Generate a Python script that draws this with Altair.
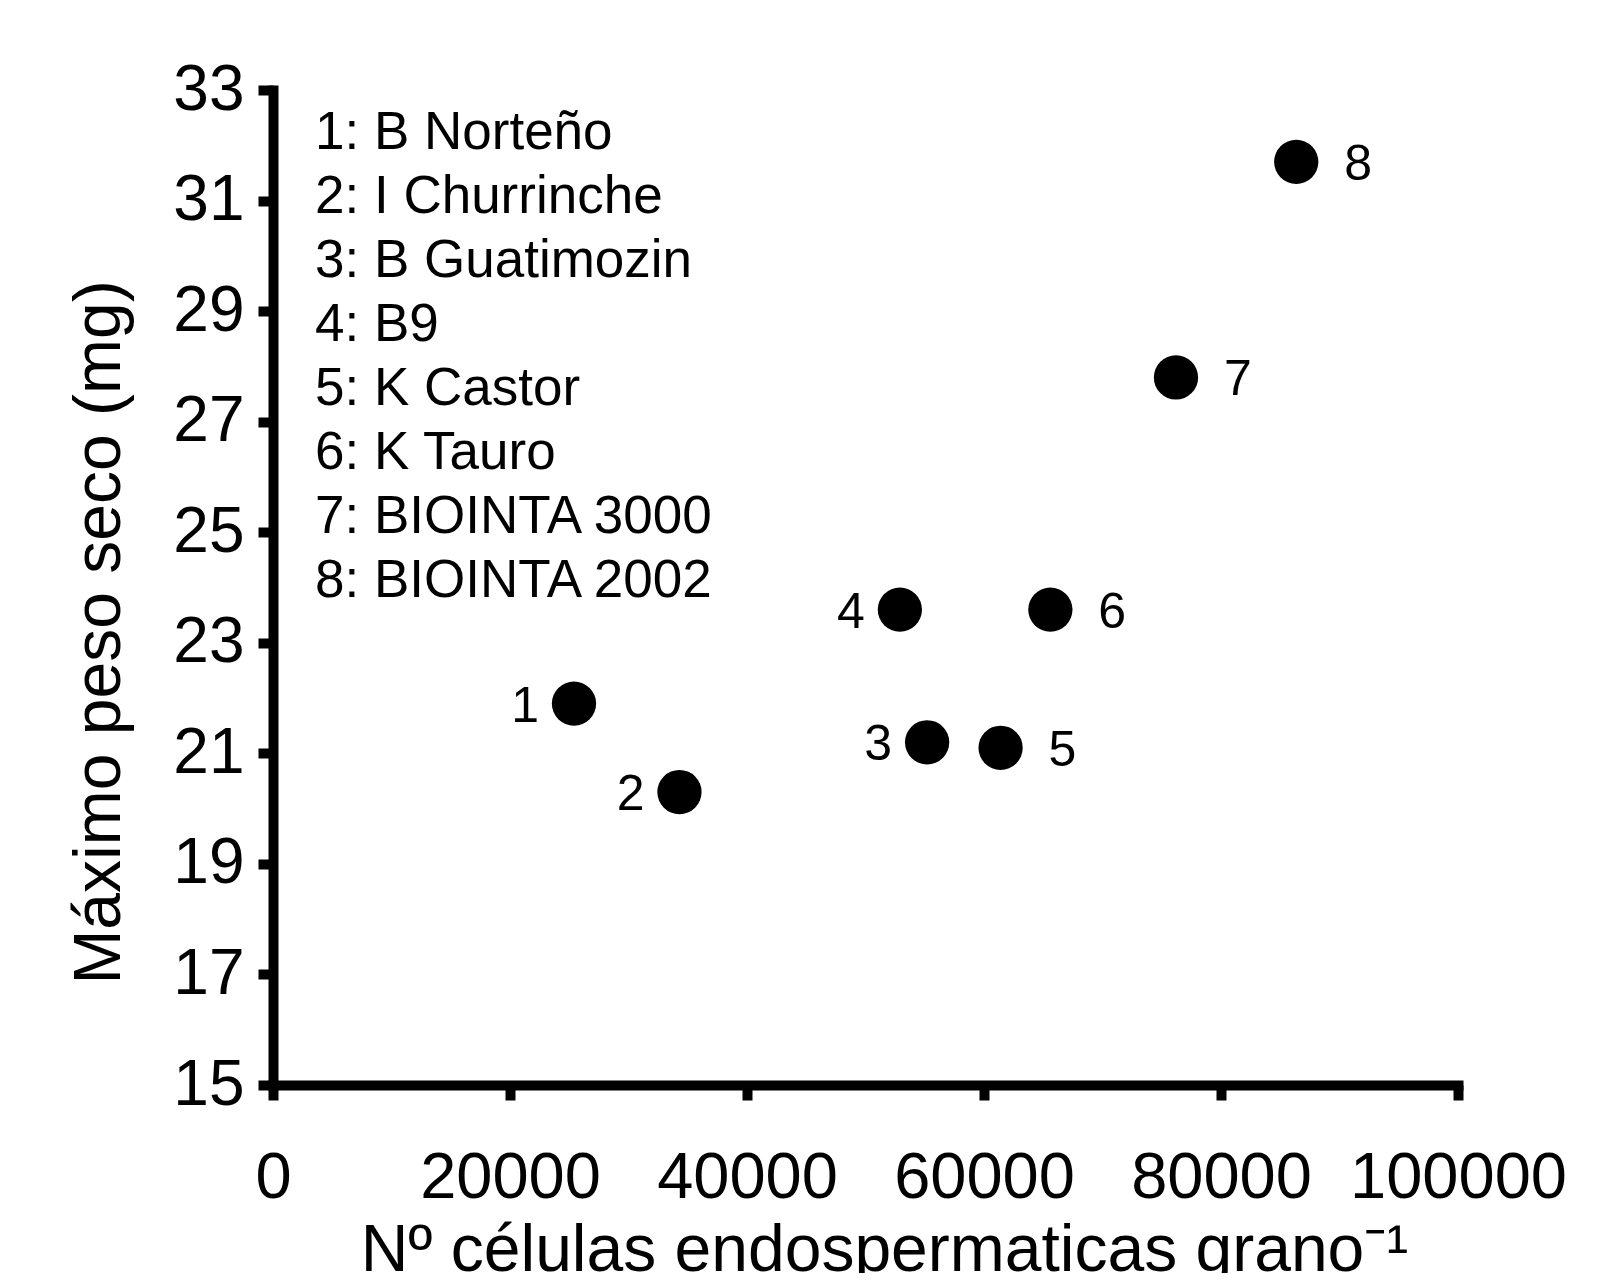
import altair as alt
import pandas as pd

# ---- data ----
ids = [1, 2, 3, 4, 5, 6, 7, 8]
cultivars = ["B Norteño", "I Churrinche", "B Guatimozin", "B9",
             "K Castor", "K Tauro", "BIOINTA 3000", "BIOINTA 2002"]
cells = [25400, 34300, 55200, 52900, 61400, 65600, 76200, 86350]
weight = [21.9, 20.3, 21.2, 23.6, 21.1, 23.6, 27.8, 31.7]
left_labelled = [1, 2, 3, 4]
x_ticks = [0, 20000, 40000, 60000, 80000, 100000]
y_ticks = [15, 17, 19, 21, 23, 25, 27, 29, 31, 33]

names = [f"{i}: {c}" for i, c in zip(ids, cultivars)]
df = pd.DataFrame({"id": ids, "name": names, "cells": cells, "weight": weight,
                   "label": [str(i) for i in ids]})

FONT = "Liberation Sans"

x_enc = alt.X(
    "cells:Q",
    scale=alt.Scale(domain=[0, 100000], nice=False, zero=False),
    axis=alt.Axis(values=x_ticks, format="d", title="Nº células endospermaticas grano⁻¹",
                  tickSize=15, tickWidth=10, domainWidth=10, labelFontSize=65,
                  labelPadding=46, labelFlush=False, labelOverlap=False, labelLimit=0,
                  titleFontSize=66, titleBaseline="alphabetic", titleAlign="center",
                  titleX=611, titleY=185, titleLimit=0),
)
y_enc = alt.Y(
    "weight:Q",
    scale=alt.Scale(domain=[15, 33], nice=False, zero=False),
    axis=alt.Axis(values=y_ticks, format="d", title="Máximo peso seco (mg)",
                  tickSize=15, tickWidth=10, domainWidth=10, labelFontSize=64,
                  labelPadding=14, labelFlush=False, labelOverlap=False, labelLimit=0,
                  titleFontSize=66, titleBaseline="alphabetic", titleAlign="center",
                  titleAngle=270, titleX=-154, titleY=542, titleLimit=0),
)

base = alt.Chart(df)

points = base.mark_circle(size=1960, opacity=1).encode(
    x=x_enc,
    y=y_enc,
    color=alt.Color(
        "name:N",
        scale=alt.Scale(domain=names, range=["black"] * len(names)),
        legend=alt.Legend(title=None, orient="none", legendX=-11, legendY=16,
                          symbolSize=0, symbolOpacity=0, symbolStrokeWidth=0,
                          labelFontSize=53, labelFont=FONT, labelColor="black",
                          labelOffset=0, rowPadding=10, padding=0, labelLimit=0),
    ),
)

right_labels = base.transform_filter(
    alt.FieldOneOfPredicate(field="id", oneOf=[i for i in ids if i not in left_labelled])
).mark_text(align="left", baseline="middle", dx=48, dy=3, fontSize=50, font=FONT,
            color="black").encode(x="cells:Q", y="weight:Q", text="label:N")

left_labels = base.transform_filter(
    alt.FieldOneOfPredicate(field="id", oneOf=left_labelled)
).mark_text(align="right", baseline="middle", dx=-35, dy=3, fontSize=50, font=FONT,
            color="black").encode(x="cells:Q", y="weight:Q", text="label:N")

chart = (
    alt.layer(points, right_labels, left_labels)
    .properties(width=1185, height=995,
                autosize=alt.AutoSizeParams(type="none"),
                padding={"left": 265, "top": 82, "right": 130, "bottom": 188})
    .configure_view(stroke=None)
    .configure_axis(grid=False, domainColor="black", tickColor="black",
                    labelColor="black", titleColor="black", labelFont=FONT,
                    titleFont=FONT, titleFontWeight="normal", domainCap="square")
)

chart.save("out.html", embed_options={"renderer": "svg", "actions": False})
